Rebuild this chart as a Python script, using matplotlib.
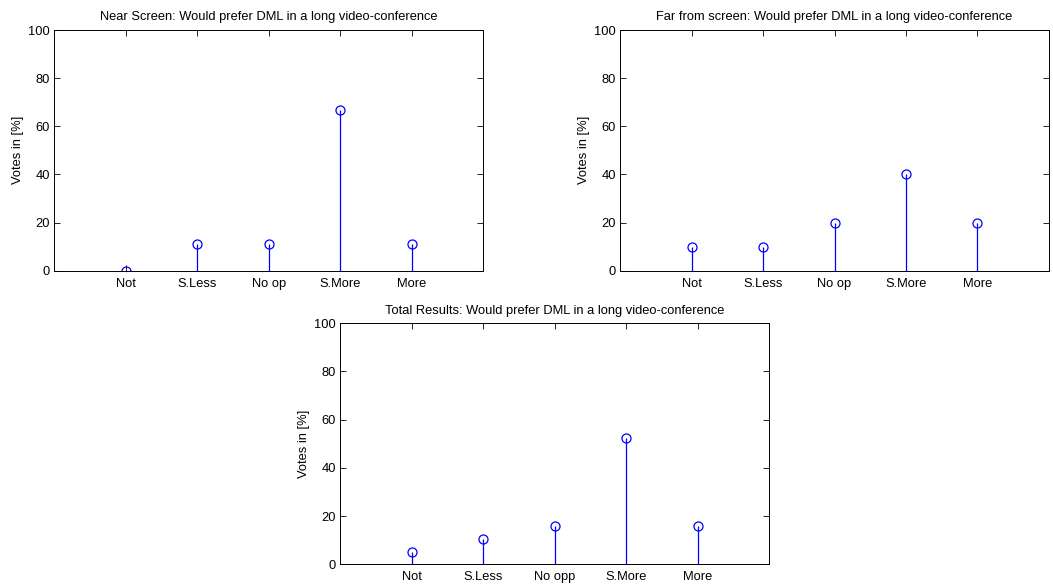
import matplotlib

matplotlib.use("Agg")
import matplotlib.pyplot as plt
import numpy as np

plt.rcParams["font.family"] = ["Liberation Sans", "DejaVu Sans"]

LABELS_SCREEN = ["Not", "S.Less", "No op", "S.More", "More"]
LABELS_TOTAL = ["Not", "S.Less", "No opp", "S.More", "More"]
NEAR = [0.0, 11.1, 11.1, 66.7, 11.1]
FAR = [10.0, 10.0, 20.0, 40.0, 20.0]
TOTAL = [5.3, 10.5, 15.8, 52.6, 15.8]

TITLE_SUFFIX = "Would prefer DML in a long video-conference"
FS = 9.3


def stem_panel(ax, values, labels, title):
    x = np.arange(1, len(values) + 1)
    markers, stems, base = ax.stem(x, values, linefmt="b-", markerfmt="bo", basefmt=" ")
    markers.set_markerfacecolor("none")
    markers.set_markersize(6.5)
    markers.set_markeredgewidth(0.9)
    stems.set_linewidth(0.9)
    ax.set_xlim(0, 6)
    ax.set_ylim(0, 100)
    ax.set_xticks(x)
    ax.set_xticklabels(labels)
    ax.set_yticks(np.arange(0, 101, 20))
    ax.set_ylabel("Votes in [%]", fontsize=FS, labelpad=3)
    ax.set_title(title, fontsize=FS, pad=7)
    ax.tick_params(direction="in", top=True, right=True, labelsize=FS, length=4, width=0.6, pad=3)
    ax.tick_params(axis="x", pad=5)
    for spine in ax.spines.values():
        spine.set_linewidth(0.7)


fig = plt.figure(figsize=(10.53, 5.85), dpi=100)
ax1 = fig.add_axes([0.0516, 0.5373, 0.4074, 0.4114])
ax2 = fig.add_axes([0.5888, 0.5373, 0.4074, 0.4114])
ax3 = fig.add_axes([0.3229, 0.0354, 0.4074, 0.4120])

stem_panel(ax1, NEAR, LABELS_SCREEN, "Near Screen: " + TITLE_SUFFIX)
stem_panel(ax2, FAR, LABELS_SCREEN, "Far from screen: " + TITLE_SUFFIX)
stem_panel(ax3, TOTAL, LABELS_TOTAL, "Total Results: " + TITLE_SUFFIX)

fig.savefig("out.png", dpi=100)
plt.close(fig)
